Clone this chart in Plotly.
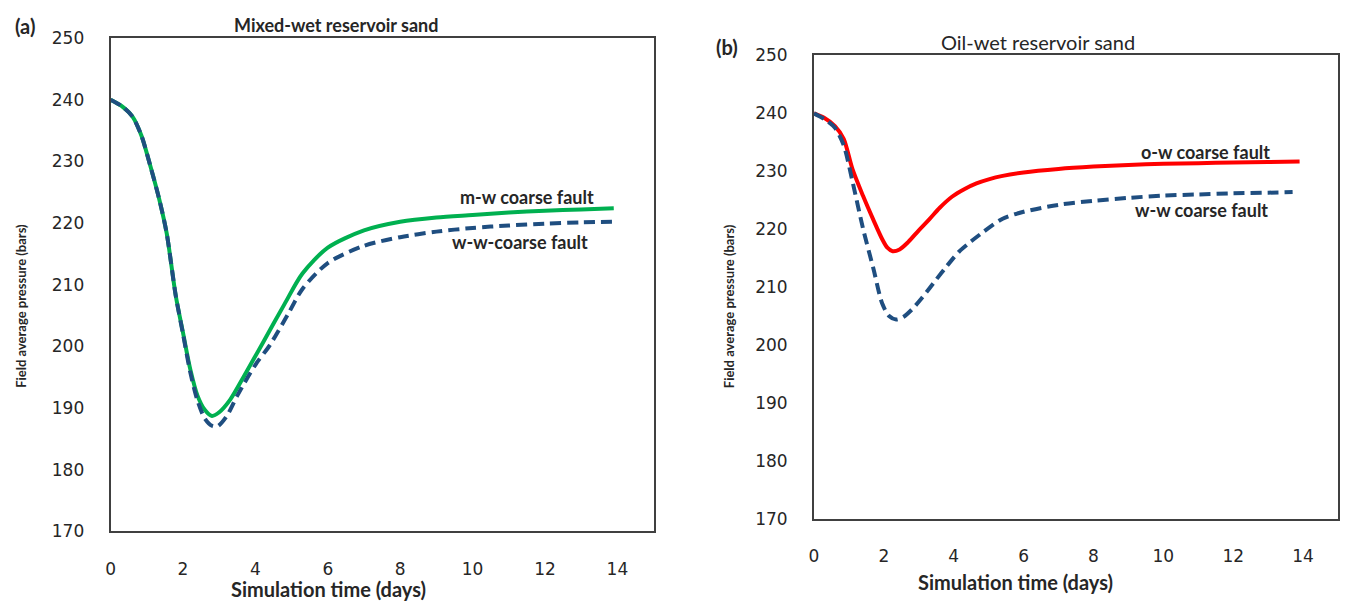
import plotly.graph_objects as go

W, H = 1347, 607

# ---- data (days, bars) ----
t_mw = [0, 0.3, 0.6, 0.85, 1.1, 1.35, 1.55, 1.8, 2.0, 2.2, 2.4, 2.6, 2.8, 3.0, 3.3, 3.7, 4.2, 4.8, 5.3, 6.0, 7.0, 8.0, 9.0, 10, 11, 12, 13, 13.9]
p_mw = [240, 239, 237.3, 234.2, 229.2, 223.7, 218.3, 208.2, 202.2, 196.3, 192.0, 189.7, 188.7, 189.3, 191.3, 195.3, 200.5, 206.8, 211.8, 216.0, 218.8, 220.2, 220.9, 221.3, 221.7, 222.0, 222.2, 222.4]

t_ww_a = [0, 0.3, 0.6, 0.85, 1.1, 1.35, 1.55, 1.8, 2.0, 2.2, 2.4, 2.6, 2.8, 2.95, 3.2, 3.5, 4.0, 4.4, 4.9, 5.3, 6.0, 7.0, 8.0, 9.0, 10, 11, 12, 13, 13.9]
p_ww_a = [240, 239, 237.3, 234.2, 229.2, 223.7, 218.3, 208.2, 202.0, 195.8, 191.2, 188.3, 187.1, 187.0, 188.6, 192.0, 197.0, 200.2, 205.2, 209.3, 213.5, 216.3, 217.7, 218.6, 219.2, 219.6, 219.9, 220.1, 220.2]

t_ow = [0, 0.3, 0.6, 0.85, 1.1, 1.4, 1.7, 1.95, 2.1, 2.25, 2.45, 2.7, 3.0, 3.3, 3.6, 3.95, 4.3, 4.65, 5.0, 5.4, 6.0, 7.0, 8.0, 9.0, 10, 11, 12, 13, 13.9]
p_ow = [240, 239.2, 237.8, 235.6, 230.4, 225.8, 221.6, 218.3, 216.8, 216.2, 216.5, 217.8, 219.8, 221.7, 223.7, 225.6, 226.9, 227.9, 228.6, 229.2, 229.8, 230.4, 230.8, 231.1, 231.3, 231.4, 231.5, 231.6, 231.7]

t_ww_b = [0, 0.3, 0.6, 0.85, 1.1, 1.4, 1.7, 1.95, 2.15, 2.35, 2.55, 2.8, 3.1, 3.5, 3.8, 4.15, 4.5, 4.8, 5.4, 6.0, 7.0, 8.0, 9.0, 10, 11, 12, 13, 13.7]
p_ww_b = [240, 239, 237.5, 234.5, 228.3, 220.2, 213.2, 207.2, 205.0, 204.4, 204.8, 206.1, 208.2, 211.3, 213.6, 216.1, 217.9, 219.3, 221.8, 223.0, 224.2, 224.9, 225.4, 225.8, 226.0, 226.2, 226.3, 226.4]

x_ticks = [0, 2, 4, 6, 8, 10, 12, 14]
y_ticks = [170, 180, 190, 200, 210, 220, 230, 240, 250]

GREEN = "#00B050"
NAVY = "#1F4E80"
RED = "#FF0000"
BOX = "#404040"
TXT = "#262626"


def px(x):
    return x / W


def py(y):
    return 1 - y / H


fig = go.Figure()
fig.add_trace(go.Scatter(x=t_mw, y=p_mw, mode="lines", line=dict(color=GREEN, width=4, shape="spline", smoothing=0.8),
                         xaxis="x", yaxis="y", showlegend=False))
fig.add_trace(go.Scatter(x=t_ww_a, y=p_ww_a, mode="lines", line=dict(color=NAVY, width=4, dash="11px,6px", shape="spline", smoothing=0.8),
                         xaxis="x", yaxis="y", showlegend=False))
fig.add_trace(go.Scatter(x=t_ow, y=p_ow, mode="lines", line=dict(color=RED, width=4, shape="spline", smoothing=0.8),
                         xaxis="x2", yaxis="y2", showlegend=False))
fig.add_trace(go.Scatter(x=t_ww_b, y=p_ww_b, mode="lines", line=dict(color=NAVY, width=4, dash="11px,6px", shape="spline", smoothing=0.8),
                         xaxis="x2", yaxis="y2", showlegend=False))

tickfont = dict(family="DejaVu Sans", size=17, color=TXT)
common_x = dict(range=[0, 15], tickvals=x_ticks, showgrid=False, zeroline=False, showline=True, mirror=True,
                linecolor=BOX, linewidth=2, ticks="", tickfont=tickfont, ticklabelstandoff=21)
common_y = dict(range=[170, 250], tickvals=y_ticks, showgrid=False, zeroline=False, showline=True, mirror=True,
                linecolor=BOX, linewidth=2, ticks="", tickfont=tickfont, ticklabelstandoff=21)

fig.update_layout(
    width=W, height=H,
    margin=dict(l=0, r=0, t=0, b=0),
    paper_bgcolor="white", plot_bgcolor="white",
    xaxis=dict(domain=[px(106), px(651)], anchor="y", **common_x),
    yaxis=dict(domain=[py(539), py(29)], anchor="x", **common_y),
    xaxis2=dict(domain=[px(812), px(1338)], anchor="y2", **common_x),
    yaxis2=dict(domain=[py(526), py(47)], anchor="x2", **common_y),
)

BOLD = "Lato"


def ann(text, x, y, size, bold=True, angle=0, color=TXT, family=BOLD):
    fig.add_annotation(text=f"<b>{text}</b>" if bold else text, x=px(x), y=py(y), xref="paper", yref="paper",
                       showarrow=False, textangle=angle, xanchor="center", yanchor="middle",
                       font=dict(family=family, size=size, color=color))


ann("(a)", 20, 17, 20)
ann("(b)", 725, 38, 20)
ann("Mixed-wet reservoir sand", 332, 16, 18)
ann("Oil-wet reservoir sand", 1037, 33, 20, bold=False)
ann("Field average pressure (bars)", 16, 306, 13, angle=-90)
ann("Field average pressure (bars)", 727, 306, 13, angle=-90)
ann("Simulation time (days)", 325, 599, 20)
ann("Simulation time (days)", 1014, 591, 20)
ann("m-w coarse fault", 524, 193, 18)
ann("w-w-coarse fault", 517, 240, 18)
ann("o-w coarse fault", 1205, 147, 18)
ann("w-w coarse fault", 1201, 207, 18)

fig.write_html("out.html", post_script="document.body.style.margin='0';document.body.style.overflow='hidden';")
